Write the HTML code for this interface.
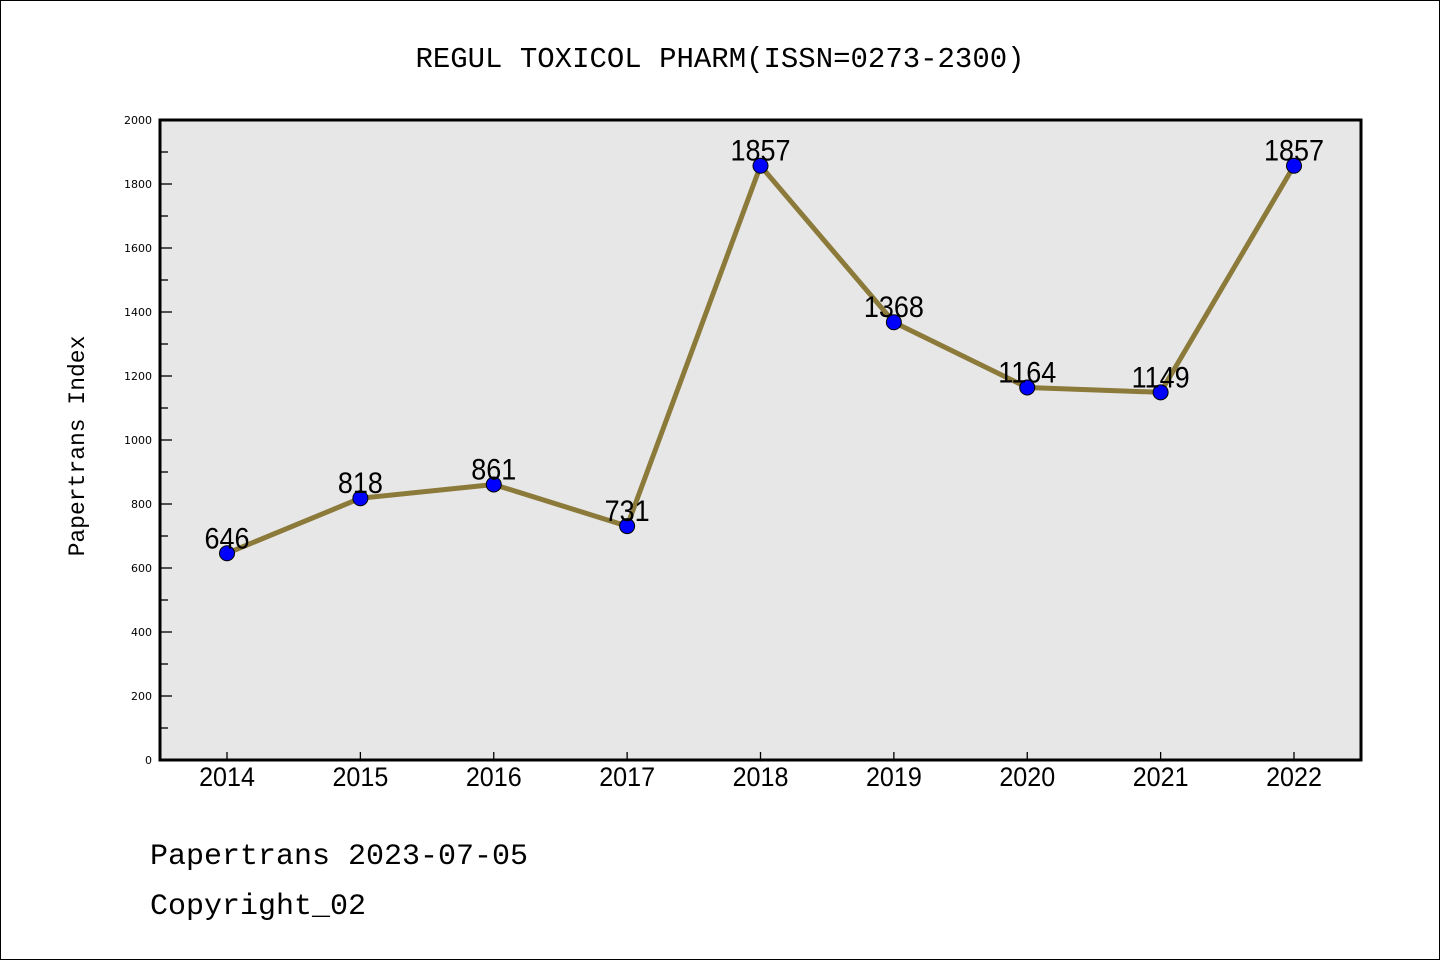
<!DOCTYPE html>
<html><head><meta charset="utf-8"><style>
html,body{margin:0;padding:0;background:#fff}
svg{display:block}
</style></head><body>
<svg id="chart" width="1440" height="960" viewBox="0 0 1440 960" xmlns="http://www.w3.org/2000/svg">
<rect x="0.5" y="0.5" width="1439" height="959" fill="#fff" stroke="#000" stroke-width="1"/>
<text x="720" y="67" text-anchor="middle" font-family="'WenQuanYi Zen Hei','Liberation Mono',monospace" font-size="29" fill="#000">REGUL TOXICOL PHARM(ISSN=0273-2300)</text>
<rect x="160" y="120" width="1201" height="640" fill="#e7e7e7"/>
<g id="yticks"></g><g id="xticks"></g>
<rect x="160" y="120" width="1201" height="640" fill="none" stroke="#000" stroke-width="3"/>
<g id="series"></g>
<text transform="translate(84,446) rotate(-90)" text-anchor="middle" font-family="'WenQuanYi Zen Hei','Liberation Mono',monospace" font-size="23" fill="#000">Papertrans Index</text>
<text x="150" y="864" font-family="'WenQuanYi Zen Hei','Liberation Mono',monospace" font-size="30" fill="#000">Papertrans 2023-07-05</text>
<text x="150" y="914" font-family="'WenQuanYi Zen Hei','Liberation Mono',monospace" font-size="30" fill="#000">Copyright_02</text>
</svg>
<script>
const categories=["2014","2015","2016","2017","2018","2019","2020","2021","2022"];
const values=[646,818,861,731,1857,1368,1164,1149,1857];
const yTicks=[0,200,400,600,800,1000,1200,1400,1600,1800,2000];
const NS="http://www.w3.org/2000/svg";
const x0=227,x1=1294,py0=760,py1=120,ymax=2000;
const xs=i=>x0+(x1-x0)*i/(categories.length-1);
const ys=v=>py0-(py0-py1)*v/ymax;
function mk(tag,attrs,parent){const e=document.createElementNS(NS,tag);for(const k in attrs)e.setAttribute(k,attrs[k]);parent.appendChild(e);return e;}
const yg=document.getElementById('yticks'),xg=document.getElementById('xticks'),sg=document.getElementById('series');
yTicks.forEach((v,i)=>{
 const t=mk('line',{x1:160,x2:172,y1:ys(v),y2:ys(v),stroke:'#000','stroke-width':1.3},yg);
 
 
 const l=mk('text',{x:152,y:ys(v)+4,'text-anchor':'end','font-family':'DejaVu Sans,sans-serif','font-size':11},yg);
 l.textContent=v;
 
 
 if(i<yTicks.length-1){const mv=v+(yTicks[1]-yTicks[0])/2;
  const m=mk('line',{x1:160,x2:168,y1:ys(mv),y2:ys(mv),stroke:'#000','stroke-width':1.3},yg);
  
  }
});
categories.forEach((c,i)=>{
 const t=mk('line',{x1:xs(i),x2:xs(i),y1:760,y2:752,stroke:'#000','stroke-width':1.3},xg);
 
 
 const l=mk('text',{x:xs(i),y:786,'text-anchor':'middle','font-family':'Liberation Sans,sans-serif','font-size':27,transform:'translate('+xs(i)+',786) scale(0.93,1) translate('+(-xs(i))+',-786)'},xg);
 l.textContent=c;
 
 
});
const pts=values.map((v,i)=>xs(i)+','+ys(v)).join(' ');
const line=mk('polyline',{points:pts,fill:'none',stroke:'#8b7a3a','stroke-width':5,'stroke-linejoin':'round'},sg);


values.forEach((v,i)=>{
 const c=mk('circle',{cx:xs(i),cy:ys(v),r:7.5,fill:'#0000ff',stroke:'#000','stroke-width':1},sg);
 
 
 const yy=ys(v)-5;
 const l=mk('text',{x:xs(i),y:yy,'text-anchor':'middle','font-family':'Liberation Sans,sans-serif','font-size':30,fill:'#000',transform:'translate('+xs(i)+','+yy+') scale(0.9,1) translate('+(-xs(i))+','+(-yy)+')'},sg);
 l.textContent=v;
 
 
});
</script>
</body></html>
